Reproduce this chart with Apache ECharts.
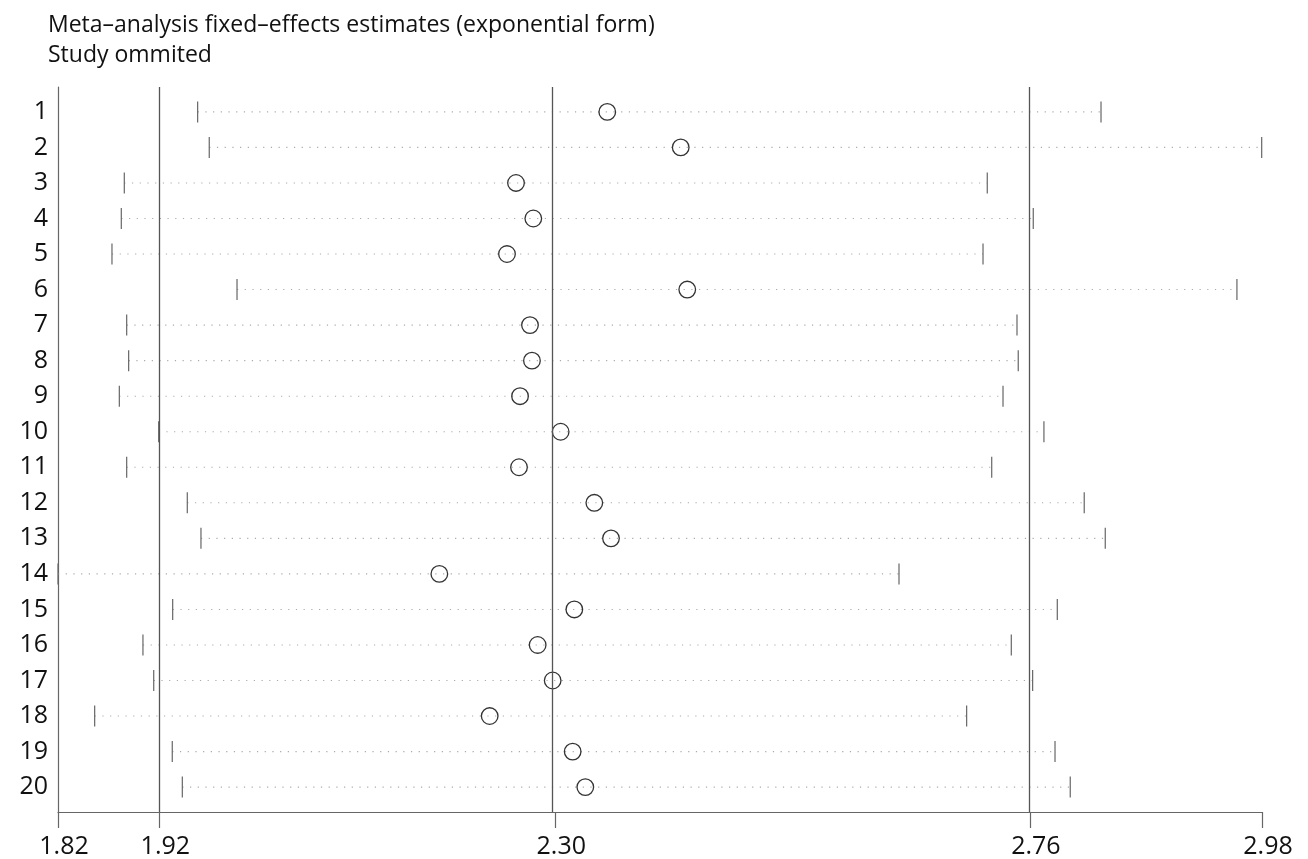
<!DOCTYPE html>
<html>
<head>
<meta charset="utf-8">
<script src="https://cdn.jsdelivr.net/npm/echarts@6/dist/echarts.min.js"></script>
<style>html,body{margin:0;padding:0;background:#fff;}#c{width:1308px;height:859px;}</style>
</head>
<body>
<div id="c"></div>
<script>
// Study omitted (row number)
const studies = [1,2,3,4,5,6,7,8,9,10,11,12,13,14,15,16,17,18,19,20];
// Lower CI, estimate, upper CI when each study is omitted
const lowerCI = [1.9573,1.9685,1.8865,1.8836,1.8746,1.9953,1.8888,1.8907,1.8817,1.9197,1.8888,1.9473,1.9605,1.8225,1.9332,1.9045,1.9149,1.8579,1.9328,1.9425];
const estimate = [2.3527,2.4236,2.2646,2.2813,2.2559,2.4299,2.2781,2.2800,2.2685,2.3077,2.2675,2.3402,2.3563,2.1906,2.3209,2.2855,2.3000,2.2392,2.3193,2.3315];
const upperCI = [2.8293,2.9844,2.7195,2.7639,2.7154,2.9605,2.7482,2.7494,2.7347,2.7742,2.7238,2.8131,2.8334,2.6343,2.7871,2.7427,2.7633,2.6996,2.7849,2.7996];
// Overall fixed-effects estimate (lower, estimate, upper)
const overall = [1.9203, 2.3025, 2.7607];
// Axis range (min lower, max upper)
const axisMin = 1.8225, axisMax = 2.9847;
const xTickValues = [axisMin, overall[0], overall[1], overall[2], axisMax];

const data = studies.map((s, i) => [s, lowerCI[i], estimate[i], upperCI[i]]);

const chart = echarts.init(document.getElementById('c'), null, {renderer: 'canvas'});
const FONT = 'Open Sans';
chart.setOption({
  backgroundColor: '#fff',
  animation: false,
  title: {
    text: 'Meta\u2013analysis fixed\u2013effects estimates (exponential form)\nStudy ommited',
    left: 43, top: 5,
    textStyle: {fontFamily: FONT, fontSize: 23, fontWeight: 'normal', color: '#111', lineHeight: 30}
  },
  grid: {left: 58, right: 46, top: 87, bottom: 46},
  xAxis: {
    type: 'value', min: axisMin, max: axisMax,
    splitLine: {show: false},
    axisLine: {show: true, lineStyle: {color: '#666', width: 1.2}},
    axisTick: {show: true, customValues: xTickValues, length: 16, lineStyle: {color: '#666', width: 1.2}},
    axisLabel: {customValues: xTickValues, formatter: v => v.toFixed(2), fontFamily: FONT, fontSize: 25, color: '#111', margin: 22, padding: [0,0,0,12]}
  },
  yAxis: {
    type: 'value', inverse: true, min: 0.3, max: 20.7,
    splitLine: {show: false},
    axisLine: {show: true, lineStyle: {color: '#666', width: 1.2}},
    axisTick: {show: false},
    axisLabel: {customValues: studies, formatter: v => String(v), fontFamily: FONT, fontSize: 25, color: '#111', margin: 10}
  },
  series: [{
    type: 'custom',
    data: data,
    encode: {x: [1, 2, 3], y: 0},
    silent: true,
    renderItem: function (params, api) {
      const y = api.value(0);
      const pL = api.coord([api.value(1), y]);
      const pE = api.coord([api.value(2), y]);
      const pU = api.coord([api.value(3), y]);
      const h = 10.5;
      return {
        type: 'group',
        children: [
          {type: 'line', shape: {x1: pL[0], y1: pL[1], x2: pU[0], y2: pU[1]},
           style: {stroke: '#aaa', lineWidth: 1.1, lineDash: [1.2, 6.5]}},
          {type: 'line', shape: {x1: pL[0], y1: pL[1] - h, x2: pL[0], y2: pL[1] + h},
           style: {stroke: '#666', lineWidth: 1.2}},
          {type: 'line', shape: {x1: pU[0], y1: pU[1] - h, x2: pU[0], y2: pU[1] + h},
           style: {stroke: '#666', lineWidth: 1.2}},
          {type: 'circle', shape: {cx: pE[0], cy: pE[1], r: 8.3},
           style: {stroke: '#333', lineWidth: 1.3, fill: 'none'}}
        ]
      };
    },
    markLine: {
      silent: true, symbol: 'none', label: {show: false},
      lineStyle: {color: '#555', width: 1.3, type: 'solid'},
      data: overall.map(v => ({xAxis: v}))
    }
  }]
});
</script>
</body>
</html>
